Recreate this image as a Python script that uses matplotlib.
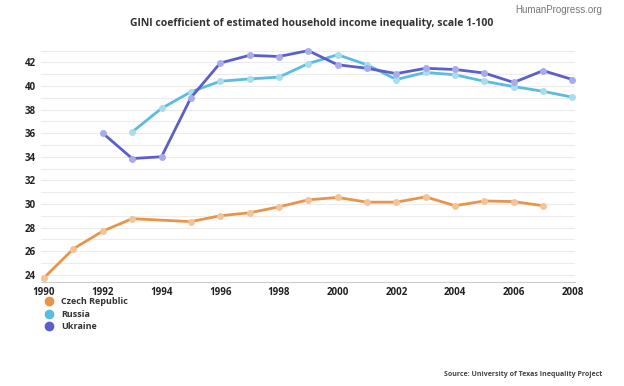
import matplotlib.pyplot as plt
from matplotlib.ticker import MultipleLocator

plt.rcParams['font.family'] = ['Open Sans', 'DejaVu Sans']

# data
czech_years = [1990, 1991, 1992, 1993, 1995, 1996, 1997, 1998, 1999, 2000,
               2001, 2002, 2003, 2004, 2005, 2006, 2007]
czech_vals = [23.75, 26.2, 27.7, 28.75, 28.5, 29.0, 29.25, 29.75, 30.35, 30.55,
              30.15, 30.15, 30.6, 29.85, 30.25, 30.2, 29.85]

russia_years = list(range(1993, 2009))
russia_vals = [36.1, 38.1, 39.5, 40.4, 40.6, 40.75, 41.9, 42.65, 41.8, 40.55,
               41.15, 40.95, 40.4, 39.95, 39.55, 39.05]

ukraine_years = list(range(1992, 2009))
ukraine_vals = [36.0, 33.85, 34.0, 39.0, 41.95, 42.6, 42.5, 43.0, 41.8, 41.5,
                41.05, 41.5, 41.4, 41.1, 40.3, 41.3, 40.55]

series = [
    ("Czech Republic", czech_years, czech_vals, "#e8954a", "#f3c49a"),
    ("Russia", russia_years, russia_vals, "#5bbce0", "#a8dcef"),
    ("Ukraine", ukraine_years, ukraine_vals, "#5b5fc7", "#a9acea"),
]

fig = plt.figure(figsize=(6.24, 3.86), dpi=100)
ax = fig.add_axes([0.066, 0.27, 0.856, 0.605])

for name, xs, ys, col, mcol in series:
    ax.plot(xs, ys, color=col, lw=2, marker="o", ms=4,
            markerfacecolor=mcol, markeredgecolor=mcol, label=name, zorder=3)

ax.set_xlim(1989.9, 2008.1)
ax.set_ylim(23.4, 43.2)
ax.xaxis.set_major_locator(MultipleLocator(2))
ax.yaxis.set_major_locator(MultipleLocator(2))
ax.yaxis.set_minor_locator(MultipleLocator(1))
ax.grid(axis="y", which="both", color="#ececec", lw=0.8, zorder=0)
ax.tick_params(which="both", length=0, labelsize=7, pad=4)
for lab in ax.get_xticklabels() + ax.get_yticklabels():
    lab.set_fontweight("bold")
    lab.set_color("#222222")
for s in ["top", "right", "left"]:
    ax.spines[s].set_visible(False)
ax.spines["bottom"].set_color("#cccccc")
ax.set_yticks(range(24, 43, 2))

ax.legend(loc="upper left", bbox_to_anchor=(-0.005, -0.03), frameon=False,
          prop={"weight": "bold", "size": 6.5}, handlelength=0.6,
          labelspacing=0.42, handletextpad=1.0)
leg = ax.get_legend()
for h in leg.legend_handles:
    h.set_linestyle("None")
    h.set_markersize(6)
    h.set_markerfacecolor(h.get_color())
    h.set_markeredgecolor(h.get_color())
for t in leg.get_texts():
    t.set_color("#333333")

fig.text(0.5, 0.94, "GINI coefficient of estimated household income inequality, scale 1-100",
         ha="center", va="center", fontsize=7.5, fontweight="bold", color="#333333")
fig.text(0.965, 0.975, "HumanProgress.org", ha="right", va="center",
         fontsize=7, color="#777777", family="Liberation Sans")
fig.text(0.965, 0.03, "Source: University of Texas Inequality Project", ha="right",
         va="center", fontsize=5, fontweight="bold", color="#444444")

fig.savefig("out.png", dpi=100)
